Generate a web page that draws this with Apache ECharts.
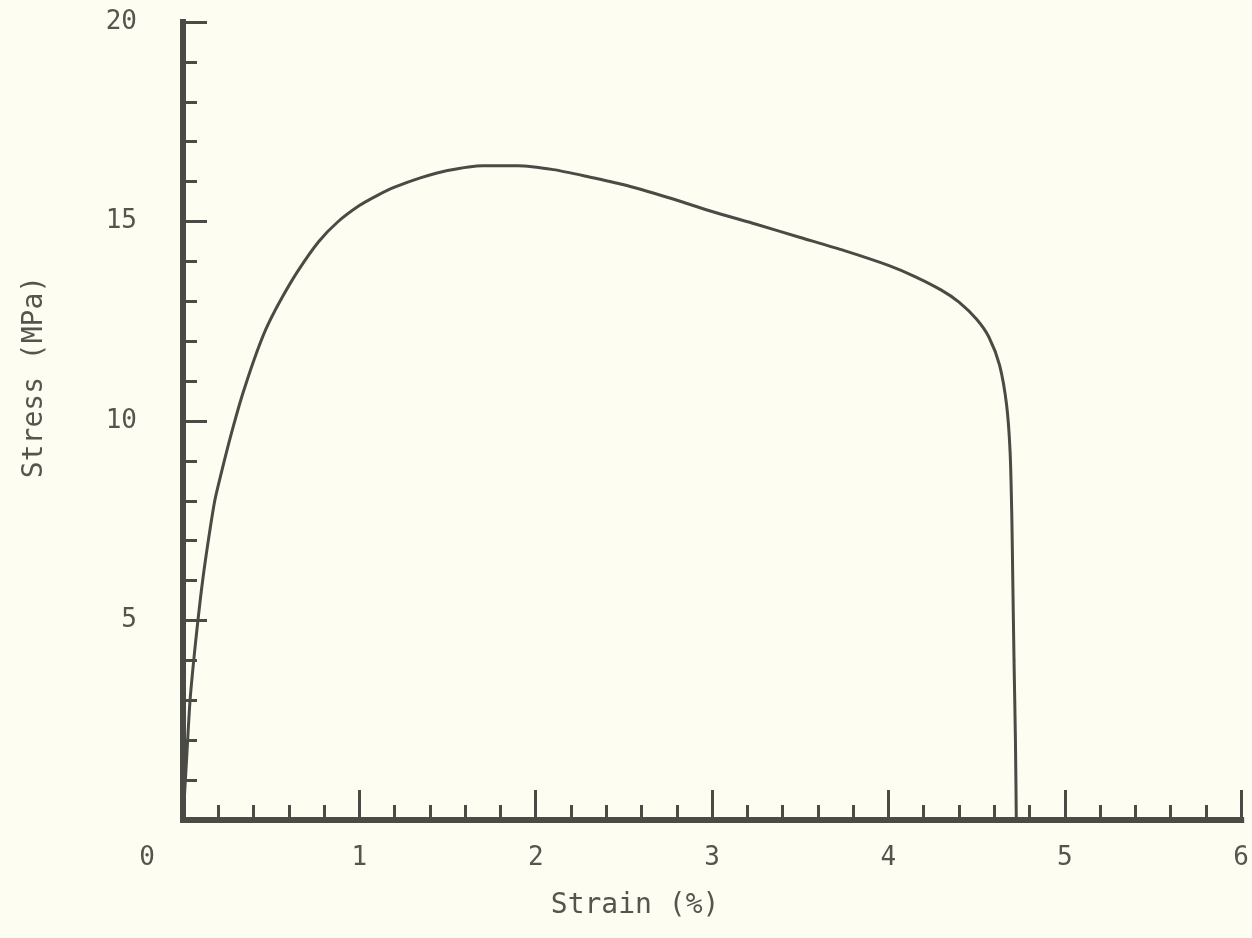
<!DOCTYPE html>
<html>
<head>
<meta charset="utf-8">
<script src="https://cdn.jsdelivr.net/npm/echarts@6/dist/echarts.min.js"></script>
<style>
html,body{margin:0;padding:0;background:#fdfdf1;}
#chart{width:1252px;height:938px;}
</style>
</head>
<body>
<div id="chart"></div>
<script>
const strain = [0, 0.02, 0.04, 0.07, 0.10, 0.13, 0.18, 0.22, 0.26, 0.30, 0.34, 0.40, 0.47, 0.55, 0.65, 0.77, 0.88, 1.0, 1.1, 1.2, 1.35, 1.5, 1.7, 1.9, 2.1, 2.3, 2.5, 2.75, 3.0, 3.25, 3.5, 3.75, 4.0, 4.15, 4.3, 4.4, 4.5, 4.57, 4.63, 4.67, 4.69, 4.70, 4.705, 4.712, 4.72, 4.725];
const stress = [0, 1.5, 3.0, 4.4, 5.6, 6.6, 8.0, 8.75, 9.45, 10.1, 10.7, 11.5, 12.3, 13.0, 13.75, 14.5, 15.0, 15.4, 15.65, 15.86, 16.1, 16.28, 16.4, 16.4, 16.3, 16.12, 15.92, 15.6, 15.25, 14.93, 14.6, 14.27, 13.9, 13.62, 13.28, 12.98, 12.55, 12.1, 11.4, 10.4, 9.2, 7.5, 6.0, 4.0, 2.0, 0];
const xTicks = [0, 1, 2, 3, 4, 5, 6];
const yTicks = [0, 5, 10, 15, 20];
const xTitle = 'Strain (%)';
const yTitle = 'Stress (MPa)';

const ink = '#4b4b45';
const textCol = '#55554f';
const font = '"DejaVu Sans Mono", "Liberation Mono", monospace';

const chart = echarts.init(document.getElementById('chart'), null, {renderer: 'canvas'});
chart.setOption({
  backgroundColor: '#fdfdf1',
  animation: false,
  grid: {left: 183, right: 7, top: 22, bottom: 118, containLabel: false},
  xAxis: {
    type: 'value',
    min: xTicks[0], max: xTicks[xTicks.length - 1], interval: 1,
    name: xTitle,
    nameLocation: 'middle',
    nameGap: 72,
    nameTextStyle: {fontFamily: font, fontSize: 28, color: textCol, padding: [0, 154, 0, 0]},
    axisLine: {show: true, onZero: false, lineStyle: {color: ink, width: 6, cap: 'square'}},
    axisTick: {show: true, inside: true, length: 30, lineStyle: {color: ink, width: 3}},
    minorTick: {show: true, splitNumber: 5, length: 15, lineStyle: {color: ink, width: 3}},
    splitLine: {show: false},
    minorSplitLine: {show: false},
    axisLabel: {
      margin: 25,
      fontFamily: font, fontSize: 26, color: textCol,
      formatter: function (v) { return v === 0 ? '{zero|0}' : String(v); },
      rich: {zero: {fontFamily: font, fontSize: 26, color: textCol, padding: [0, 72, 0, 0]}}
    }
  },
  yAxis: {
    type: 'value',
    min: yTicks[0], max: yTicks[yTicks.length - 1], interval: 5,
    name: yTitle,
    nameLocation: 'middle',
    nameGap: 134,
    nameTextStyle: {fontFamily: font, fontSize: 28, color: textCol, padding: [0, 0, 0, 88]},
    axisLine: {show: true, onZero: false, lineStyle: {color: ink, width: 6, cap: 'square'}},
    axisTick: {show: true, inside: true, length: 24, lineStyle: {color: ink, width: 3}},
    minorTick: {show: true, splitNumber: 5, length: 14, lineStyle: {color: ink, width: 3}},
    splitLine: {show: false},
    minorSplitLine: {show: false},
    axisLabel: {
      margin: 46,
      fontFamily: font, fontSize: 26, color: textCol,
      formatter: function (v) { return v === 0 ? '' : String(v); }
    }
  },
  series: [{
    type: 'line',
    data: strain.map((x, i) => [x, stress[i]]),
    showSymbol: false,
    smooth: 0.25,
    clip: false,
    lineStyle: {color: ink, width: 3},
    z: 1
  }]
});
</script>
</body>
</html>
